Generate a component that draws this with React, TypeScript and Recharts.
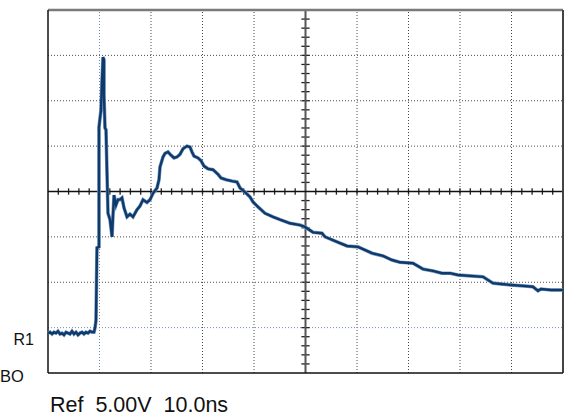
import React from 'react';
import { LineChart, Line, XAxis, YAxis, ReferenceLine } from 'recharts';

// Trace: time in ns (10 ns/div), amplitude in V (5 V/div)
const timeNs = [
  0, 0.39, 0.78, 1.17, 1.55, 1.94, 2.33, 2.72, 3.11, 3.5, 3.88, 4.27, 4.66, 5.05, 5.44, 5.83, 6.21, 6.6, 6.99, 7.38, 7.77, 8.16, 8.54, 8.93,
  9.13, 9.32, 9.51, 9.9, 9.9, 9.9, 10.29, 10.49, 10.68, 10.87, 10.87, 11.07, 11.26, 11.46, 11.65, 12.04, 12.43, 12.62, 12.82,
  13.2, 13.59, 13.98, 14.37, 14.76, 15.34, 15.92, 16.5, 17.28, 17.86, 18.45, 19.22, 19.81, 20.39, 21.17, 21.55, 21.75,
  22.33, 22.72, 23.3, 23.88, 24.47, 25.05, 25.63, 26.21, 26.99, 27.57, 27.96, 28.35, 29.13, 29.71, 30.29, 31.07, 32.04,
  33.01, 33.59, 34.56, 35.73, 36.7, 37.28, 38.25, 39.22, 39.81, 40.78, 42.14, 43.69, 45.05, 46.99, 48.93, 49.9, 51.46,
  53.2, 53.79, 56.12, 58.06, 60.19, 61.17, 62.91, 65.05, 66.8, 68.35, 70.87, 72.82, 74.76, 76.5, 78.06, 79.61, 81.94,
  84.47, 86.41, 87.97, 89.9, 92.23, 94.17, 95.15, 95.73, 97.67, 100,
];
const voltsV = [
  -15.6, -15.5, -15.7, -15.5, -15.6, -15.4, -15.7, -15.6, -15.8, -15.5, -15.6, -15.7, -15.4, -15.7, -15.5, -15.8, -15.6, -15.5, -15.7, -15.5, -15.6, -15.4, -15.5, -15.5,
  -15.0, -14.2, -6.2, -6.1, 3.5, 7.1, 9.0, 12.3, 14.8, 14.5, 10.6, 7.0, 6.8, 2.0, -2.4, -3.1, -5.0, -2.6, -0.4,
  -1.5, -0.9, -0.9, -0.7, -1.8, -2.8, -2.5, -2.8, -2.0, -1.6, -0.9, -1.2, -0.9, -0.2, 0.4, 1.3, 2.7,
  3.8, 4.2, 4.35, 4.0, 3.7, 3.8, 4.1, 4.7, 5.0, 4.9, 4.35, 3.9, 3.7, 3.4, 2.8, 2.5, 2.4,
  1.9, 1.5, 1.3, 1.15, 1.05, 0.4, -0.06, -0.6, -1.15, -1.7, -2.4, -2.8, -3.1, -3.5, -3.7, -3.9, -4.5,
  -4.6, -5.0, -5.55, -6.0, -6.1, -6.35, -6.8, -7.1, -7.55, -7.8, -7.9, -8.55, -8.75, -9.0, -9.0, -9.2, -9.3,
  -9.4, -10.1, -10.2, -10.3, -10.4, -10.5, -10.95, -10.75, -10.85, -10.85,
];

const gridTimes = [10, 20, 30, 40, 60, 70, 80, 90];
const gridVolts = [-15, -10, -5, 5, 10, 15];
const markerTime = 10; // trigger marker line
const markerVolt = -15; // R1 reference level
const axisTickTimes = Array.from({ length: 49 }, (_, i) => 2 + i * 2).filter((t) => t !== 50);
const axisTickVolts = Array.from({ length: 39 }, (_, i) => -19 + i).filter((v) => v !== 0);

const data = timeNs.map((t, i) => ({ t, v: voltsV[i] }));

const GRID = '#4a4a4a';
const BLUE_GRID = '#6f8db0';
const TRACE = '#0d3a6a';

export default function App() {
  return (
    <div style={{ position: 'absolute', left: 0, top: 0, width: 566, height: 416, background: '#fff' }}>
      <LineChart width={566} height={416} data={data} margin={{ top: 10, right: 3, bottom: 43, left: 48 }}>
        <XAxis type="number" dataKey="t" domain={[0, 100]} hide />
        <YAxis type="number" domain={[-20, 20]} hide />
        {gridTimes.map((t) => (
          <ReferenceLine key={'gx' + t} x={t} stroke={t === markerTime ? BLUE_GRID : GRID} strokeDasharray="1 2" strokeWidth={1} />
        ))}
        {gridVolts.map((v) => (
          <ReferenceLine key={'gy' + v} y={v} stroke={v === markerVolt ? BLUE_GRID : GRID} strokeDasharray="1 2" strokeWidth={1} />
        ))}
        {axisTickTimes.map((t) => (
          <ReferenceLine key={'tx' + t} segment={[{ x: t, y: -0.35 }, { x: t, y: 0.35 }]} stroke="#222" strokeWidth={1.3} />
        ))}
        {axisTickVolts.map((v) => (
          <ReferenceLine key={'ty' + v} segment={[{ x: 49.2, y: v }, { x: 50.8, y: v }]} stroke="#222" strokeWidth={1.3} />
        ))}
        <ReferenceLine x={50} stroke="#555" strokeWidth={2} />
        <ReferenceLine y={0} stroke="#111" strokeWidth={1.5} />
        <ReferenceLine y={20} stroke="#7a7a7a" strokeWidth={2.5} />
        <ReferenceLine x={100} stroke="#444" strokeWidth={2} />
        <ReferenceLine x={0} stroke="#111" strokeWidth={1.5} />
        <ReferenceLine y={-20} stroke="#111" strokeWidth={1.5} />
        <Line type="linear" dataKey="v" stroke="#7e9cc0" strokeWidth={3.6} dot={false} isAnimationActive={false} />
        <Line type="linear" dataKey="v" stroke={TRACE} strokeWidth={2.4} dot={false} isAnimationActive={false} />
      </LineChart>
      <svg width={566} height={416} style={{ position: 'absolute', left: 0, top: 0, pointerEvents: 'none' }}>
        <text x={34} y={345} textAnchor="end" fontFamily="Liberation Sans, Arial, sans-serif" fontSize={16} fill="#111">R1</text>
        <text x={0} y={382} fontFamily="Liberation Sans, Arial, sans-serif" fontSize={16.5} fill="#111">BO</text>
        <text x={50} y={412} fontFamily="Liberation Sans, Arial, sans-serif" fontSize={21.5} fill="#111" style={{ whiteSpace: 'pre' }}>{'Ref  5.00V  10.0ns'}</text>
      </svg>
    </div>
  );
}
